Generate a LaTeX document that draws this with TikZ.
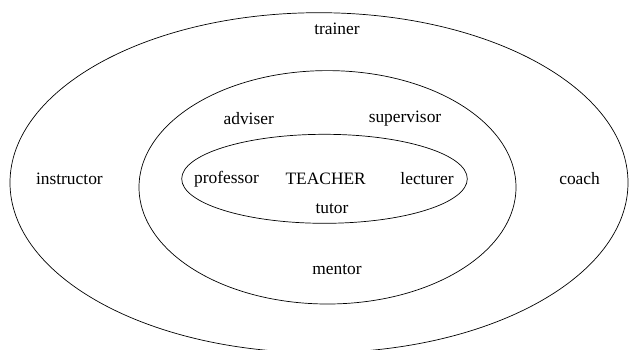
\documentclass[tikz,border=0pt]{standalone}
\usepackage{fontspec}
\setmainfont{Liberation Serif}
\usepackage{tikz}

\begin{document}
\begin{tikzpicture}[x=1pt, y=-1pt]
            \tikzstyle{every node} = [font=\fontsize{17.4}{20}\selectfont, inner sep=0pt]
            \tikzstyle{ring} = [draw, line width=0.7pt]

            \useasboundingbox (0,0) rectangle (629,349);
            \clip (0,0) rectangle (629,349);

            % rings
            \draw[ring] (319,182.7) ellipse [x radius=309, y radius=170];
            \draw[ring] (327.5,187.3) ellipse [x radius=188.5, y radius=116.7];
            \draw[ring] (324.5,178.8) ellipse [x radius=142.8, y radius=44.5];

            % words
            \node (trainer) at (337,29) {trainer};
            \node (adviser) at (248.7,119) {adviser};
            \node (supervisor) at (405,119) {supervisor};
            \node (instructor) at (69.4,179) {instructor};
            \node (professor) at (226.6,179) {professor};
            \node (teacher) at (325.7,179) {TEACHER};
            \node (lecturer) at (427,179) {lecturer};
            \node (coach) at (579.6,179) {coach};
            \node (tutor) at (332,209) {tutor};
            \node (mentor) at (337,270) {mentor};
\end{tikzpicture}
\end{document}
